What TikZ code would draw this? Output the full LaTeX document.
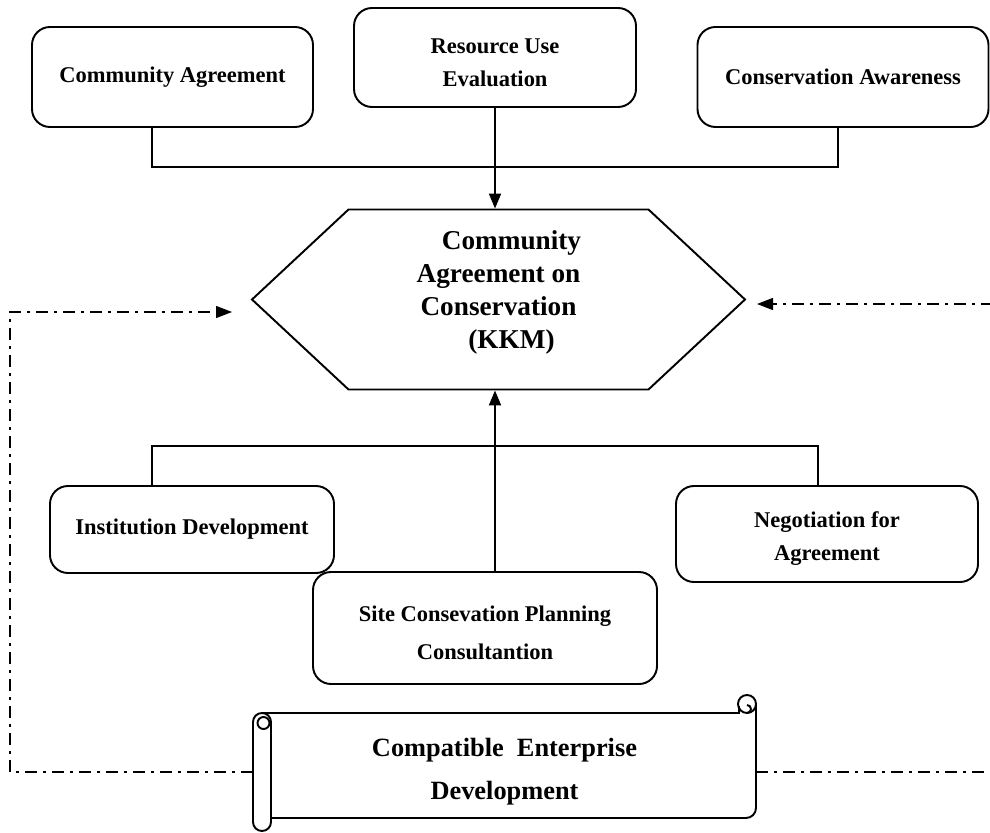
\documentclass[tikz,border=0pt]{standalone}
\usepackage{fontspec}
\setmainfont{Liberation Serif}
\usepackage{tikz}
\usetikzlibrary{shapes.symbols, arrows.meta, calc}

\newcommand{\lowerby}{\rule{0pt}{0.5cm}}

\tikzset{
  box/.style={shape=rectangle,draw,rounded corners=0.36cm,line width=1.1pt,align=center,
    font=\bfseries\fontsize{12.8}{18.8}\selectfont},
  link/.style={line width=1.1pt},
  tip/.style={-{Triangle[length=3mm,width=2.4mm]}},
  feedback/.style={line width=0.8pt,dash pattern=on 0.24cm off 0.12cm on 0.06cm off 0.12cm,
    -{Triangle[length=3.2mm,width=2.4mm]}}
}

\begin{document}
\begin{tikzpicture}

\useasboundingbox (0,0) rectangle (19.8,-16.66);

% top row
\node (ca) [box,minimum width=5.62cm,minimum height=2cm] at (3.45,-1.54) {Community Agreement};
\node (rue) [box,minimum width=5.64cm,minimum height=1.98cm] at (9.9,-1.15) {\lowerby Resource Use\\Evaluation};
\node (aware) [box,minimum width=5.82cm,minimum height=2cm] at (16.86,-1.54) {Conservation Awareness};

% centre
\node (kkm) [shape=signal,signal to=west and east,signal pointer angle=86,draw,line width=1.1pt,
  minimum width=9.86cm,minimum height=3.6cm,align=center,
  font=\bfseries\fontsize{15.5}{18.8}\selectfont] at (9.97,-5.99)
  {\hspace*{0.52cm}Community\\Agreement on\\Conservation\\\hspace*{0.52cm}(KKM)\\[-0.26cm]};

% bottom row
\node (inst) [box,minimum width=5.68cm,minimum height=1.74cm] at (3.84,-10.59) {Institution Development};
\node (neg) [box,minimum width=6.04cm,minimum height=1.92cm] at (16.54,-10.68) {\lowerby Negotiation for\\Agreement};
\node (site) [box,minimum width=6.88cm,minimum height=2.24cm] at (9.7,-12.56) {\lowerby Site Consevation Planning\\[0.1cm]Consultantion};

% scroll
\node (ced) [minimum width=10.06cm,minimum height=2.36cm,align=center,
  font=\bfseries\fontsize{15}{24.5}\selectfont] at (10.09,-15.44) {Compatible~ Enterprise\\Development};
\draw[line width=1.1pt] (5.24,-14.26) -- (14.78,-14.26) -- (14.78,-14.12);
\draw[line width=1.1pt] (14.94,-14.08) circle (0.18cm);
\draw[line width=1.1pt] (14.94,-14.26) arc (-90:90:0.08cm);
\draw[line width=1.1pt,rounded corners=0.2cm] (15.12,-14.08) -- (15.12,-16.36) -- (5.42,-16.36);
\draw[line width=1.1pt,rounded corners=0.18cm] (5.06,-14.26) rectangle (5.42,-16.62);
\draw[line width=1.1pt] (5.27,-14.46) circle (0.12cm);

% links
\coordinate (topjoin) at (9.9,-3.34);
\draw[link] ([xshift=-0.41cm]ca.south) |- (topjoin) -| ([xshift=-0.1cm]aware.south);
\draw[link,tip] (rue.south) -- (rue.south |- kkm.north);

\coordinate (botjoin) at (9.9,-8.92);
\coordinate (sitetop) at ([xshift=2mm]site.north);
\draw[link] ([xshift=-0.8cm]inst.north) |- (botjoin) -| ([xshift=-0.18cm]neg.north);
\draw[link,tip] (sitetop) -- (sitetop |- kkm.south);

% feedback
\coordinate (lbend) at (0.2,-6.24);
\coordinate (ltip) at (4.64,-6.24);
\coordinate (rbend) at (20.1,-6.08);
\coordinate (rtip) at (15.14,-6.08);
\draw[feedback] (ced.west) -| (lbend) -- (ltip);
\draw[feedback] (ced.east) -| (rbend) -- (rtip);

\end{tikzpicture}
\end{document}
